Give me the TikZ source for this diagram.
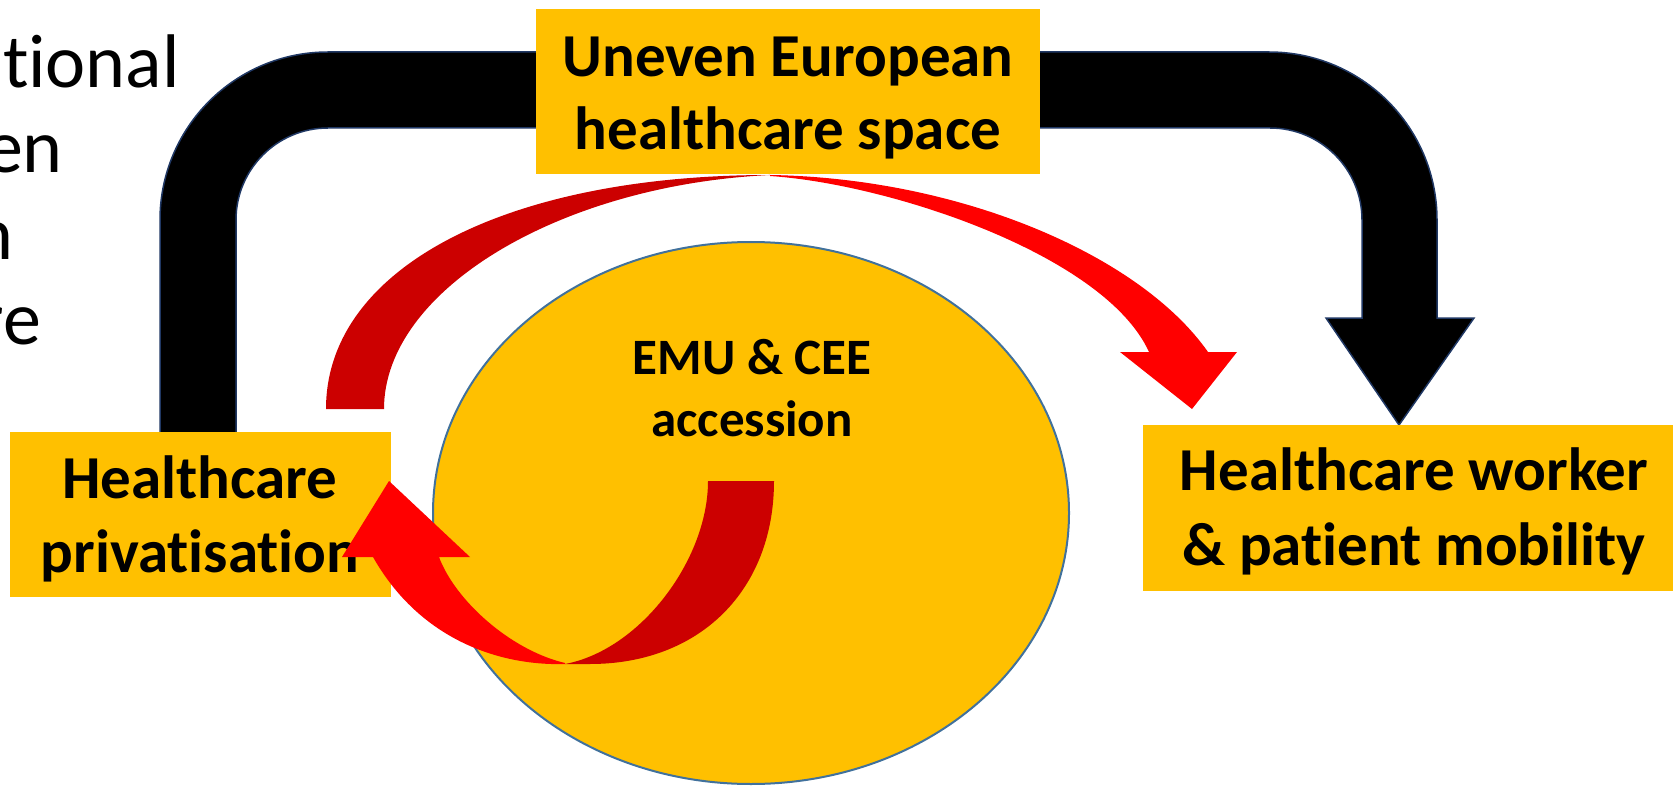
\documentclass[tikz,border=0pt]{standalone}
\usepackage{fontspec}
\setmainfont{Carlito}[Ligatures={NoCommon,NoContextual}]
\usetikzlibrary{shapes.geometric}
\definecolor{boxgold}{HTML}{FFC000}
\definecolor{arrowdark}{HTML}{CC0000}
\definecolor{arrowbright}{HTML}{FF0000}
\definecolor{ringblue}{HTML}{41719C}
\definecolor{navyline}{HTML}{203864}
\tikzset{
  goldbox/.style={fill=boxgold, draw=none, rectangle, anchor=north west, inner sep=0pt},
  boxtext/.style={font=\fontsize{61}{74}\selectfont\bfseries, inner sep=0pt, anchor=base},
  coretext/.style={font=\fontsize{51}{62}\selectfont\bfseries, inner sep=0pt, anchor=base},
  sidetext/.style={font=\fontsize{76}{85}\selectfont, inner sep=0pt, anchor=base east},
  bigarrow/.style={fill=black, draw=navyline, line width=1.5pt, line join=miter},
}
\begin{document}
\begin{tikzpicture}[x=1pt,y=-1pt]
\useasboundingbox (0,0) rectangle (1673,786);

% cropped text on the left
\node[sidetext] (s1) at (180,88) {tional};
\node[sidetext] (s2) at (63,173) {en};
\node[sidetext] (s3) at (14,260) {n};
\node[sidetext] (s4) at (41,344) {re};

% black U-turn arrow
\path[bigarrow] (160,440) -- (160,220) arc[start angle=180, end angle=270, radius=168]
  -- (1269,52) arc[start angle=270, end angle=360, radius=168]
  -- (1437,318) -- (1474,318) -- (1399,425) -- (1326,318) -- (1362,318) -- (1362,220)
  arc[start angle=360, end angle=270, radius=92]
  -- (328,128) arc[start angle=270, end angle=180, radius=92]
  -- (236,440) -- cycle;

% upper red curved arrow
\fill[arrowdark] (326,409) .. controls (326,269) and (504,175) .. (770,175)
  .. controls (560,185) and (384,290) .. (384,409) -- cycle;
\fill[arrowbright] (770,175) .. controls (960,178) and (1140,255) .. (1208,352)
  -- (1237,352) -- (1192,409) -- (1120,352) -- (1149,352)
  .. controls (1105,255) and (890,184) .. (770,176) -- cycle;

% central ellipse
\node[ellipse, fill=boxgold, draw=ringblue, line width=2pt, minimum width=636pt,
      minimum height=542pt, inner sep=0pt] (core) at (751,513) {};
\node[coretext] (c1) at (752,374) {EMU \& CEE};
\node[coretext] (c2) at (752,436) {accession};

% boxes
\node[goldbox, minimum width=504pt, minimum height=165pt] (space) at (536,9) {};
\node[boxtext] (t1) at (788,77) {Uneven European};
\node[boxtext] (t2) at (788,150) {healthcare space};

\node[goldbox, minimum width=381pt, minimum height=165pt] (priv) at (10,432) {};
\node[boxtext] (p1) at (200,498) {Healthcare};
\node[boxtext] (p2) at (200,572) {privatisation};

\node[goldbox, minimum width=530pt, minimum height=166pt] (mob) at (1143,425) {};
\node[boxtext] (m1) at (1414,490) {Healthcare worker};
\node[boxtext] (m2) at (1414,565) {\& patient mobility};

% lower red curved arrow
\fill[arrowdark] (708,481) -- (774,481) .. controls (774,590) and (700,664) .. (590,664)
  -- (565,664) .. controls (640,650) and (708,560) .. (708,481) -- cycle;
\fill[arrowbright] (565,664) .. controls (500,666) and (420,640) .. (373,557)
  -- (342,557) -- (389,481) -- (470,557) -- (439,557)
  .. controls (455,600) and (510,650) .. (565,663) -- cycle;
\end{tikzpicture}
\end{document}
